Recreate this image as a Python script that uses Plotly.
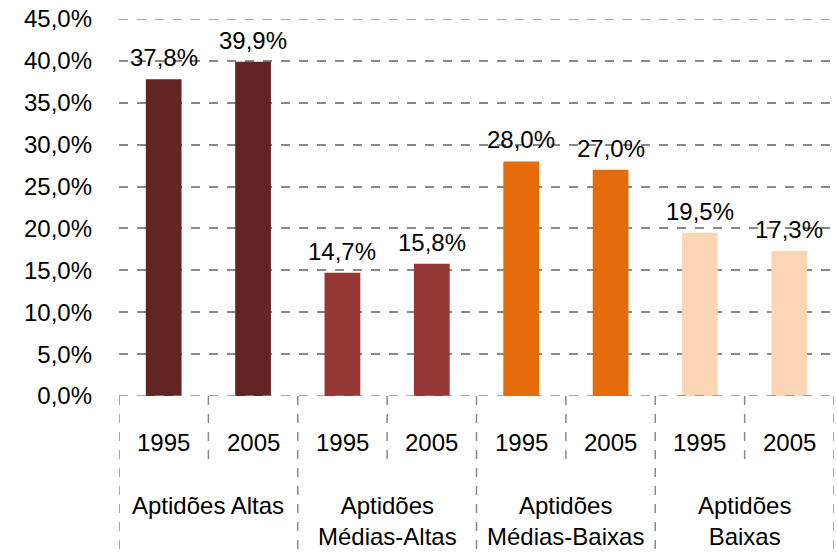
import plotly.graph_objects as go

categorias = ["Aptidões Altas", "Aptidões<br>Médias-Altas", "Aptidões<br>Médias-Baixas", "Aptidões<br>Baixas"]
anos = ["1995", "2005"]
valores_1995 = [37.8, 14.7, 28.0, 19.5]
valores_2005 = [39.9, 15.8, 27.0, 17.3]
cores = ["#632523", "#953735", "#E46C0A", "#FCD5B5"]
y_max = 45

x_pos = []
y_vals = []
bar_cores = []
for i in range(len(categorias)):
    x_pos += [2 * i, 2 * i + 1]
    y_vals += [valores_1995[i], valores_2005[i]]
    bar_cores += [cores[i], cores[i]]

font = dict(family="Liberation Sans, Arial, sans-serif", size=24, color="#000000")
dash_line = dict(color="#888888", width=1.5, dash="dash")

fig = go.Figure()
fig.add_trace(go.Bar(
    x=x_pos, y=y_vals, marker=dict(color=bar_cores, line=dict(width=0)),
    width=0.4, hoverinfo="skip"))

last = len(x_pos) - 0.5
# linha do zero e linha de grade do topo (plotly nao desenha no limite)
shapes = [dict(type="line", xref="x", yref="y", x0=-0.5, x1=last,
               y0=0, y1=0, line=dash_line),
          dict(type="line", xref="x", yref="y", x0=-0.5, x1=last,
               y0=y_max, y1=y_max, line=dash_line, layer="below")]
annotations = []
# rotulos de dados
for xp, yv in zip(x_pos, y_vals):
    annotations.append(dict(x=xp, y=yv, xref="x", yref="y",
                            text=f"{yv:.1f}%".replace(".", ","),
                            showarrow=False, yanchor="bottom", yshift=6, font=font))
for i, cat in enumerate(categorias):
    left = 2 * i - 0.5
    shapes.append(dict(type="line", xref="x", yref="paper", x0=left, x1=left,
                       y0=0, y1=-0.43, line=dash_line))
    shapes.append(dict(type="line", xref="x", yref="paper", x0=left + 1, x1=left + 1,
                       y0=0, y1=-0.175, line=dash_line))
    for j, ano in enumerate(anos):
        annotations.append(dict(x=2 * i + j, y=0, xref="x", yref="paper", text=ano,
                                showarrow=False, yanchor="middle", yshift=-46, font=font))
    annotations.append(dict(x=2 * i + 0.5, y=0, xref="x", yref="paper", text=cat,
                            showarrow=False, yanchor="top", yshift=-94,
                            font=font, align="center"))
shapes.append(dict(type="line", xref="x", yref="paper", x0=last, x1=last,
                   y0=0, y1=-0.43, line=dash_line))

fig.update_layout(
    width=837, height=555,
    margin=dict(l=119, r=3, t=19, b=159),
    plot_bgcolor="white", paper_bgcolor="white",
    separators=",.",
    showlegend=False,
    font=font,
    shapes=shapes,
    annotations=annotations,
)
fig.update_xaxes(range=[-0.5, last], showticklabels=False, showgrid=False,
                 zeroline=False, showline=False, automargin=False)
fig.update_yaxes(range=[0, y_max], dtick=5, tickformat=".1f", ticksuffix="%",
                 showgrid=True, gridcolor="#888888", gridwidth=1.5, griddash="dash",
                 zeroline=False, showline=False, tickfont=font, ticks="",
                 ticklabelstandoff=26, automargin=False)

# tira a margem de 8px do body para a figura ocupar a janela toda
fig.write_html("out.html", config={"displayModeBar": False},
               post_script="document.body.style.margin='0';")
